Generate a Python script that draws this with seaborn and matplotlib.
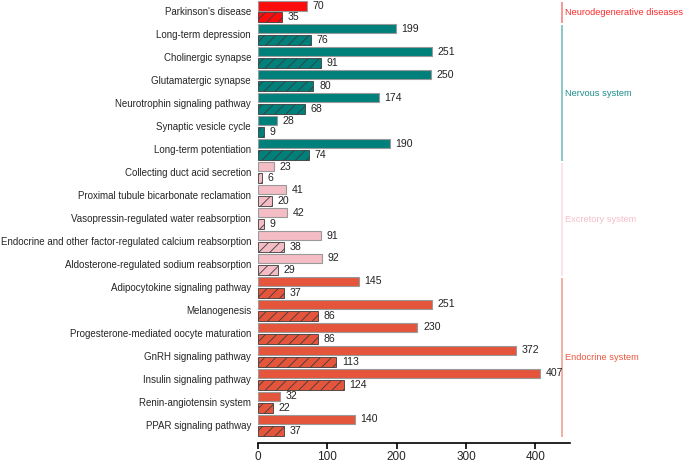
import numpy as np
import pandas as pd
import matplotlib.pyplot as plt
import seaborn as sns

# pathway names, top to bottom
pathways = [
    "Parkinson's disease",
    "Long-term depression",
    "Cholinergic synapse",
    "Glutamatergic synapse",
    "Neurotrophin signaling pathway",
    "Synaptic vesicle cycle",
    "Long-term potentiation",
    "Collecting duct acid secretion",
    "Proximal tubule bicarbonate reclamation",
    "Vasopressin-regulated water reabsorption",
    "Endocrine and other factor-regulated calcium reabsorption",
    "Aldosterone-regulated sodium reabsorption",
    "Adipocytokine signaling pathway",
    "Melanogenesis",
    "Progesterone-mediated oocyte maturation",
    "GnRH signaling pathway",
    "Insulin signaling pathway",
    "Renin-angiotensin system",
    "PPAR signaling pathway",
]
groups = (["Neurodegenerative diseases"] + ["Nervous system"] * 6
          + ["Excretory system"] * 5 + ["Endocrine system"] * 7)
solid_values = [70, 199, 251, 250, 174, 28, 190, 23, 41, 42, 91, 92,
                145, 251, 230, 372, 407, 32, 140]
hatched_values = [35, 76, 91, 80, 68, 9, 74, 6, 20, 9, 38, 29,
                  37, 86, 86, 113, 124, 22, 37]

group_names = ["Neurodegenerative diseases", "Nervous system",
               "Excretory system", "Endocrine system"]
bar_colors = {"Neurodegenerative diseases": "#fb0d0d",
              "Nervous system": "#00807b",
              "Excretory system": "#f4bcc5",
              "Endocrine system": "#e5553b"}
line_colors = {"Neurodegenerative diseases": "#f77a7a",
               "Nervous system": "#6fb8b6",
               "Excretory system": "#fbdde3",
               "Endocrine system": "#f3988a"}
text_colors = {"Neurodegenerative diseases": "#fb2a2a",
               "Nervous system": "#1a8e8a",
               "Excretory system": "#f6bfca",
               "Endocrine system": "#e8583f"}

n = len(pathways)
df = pd.DataFrame({
    "pathway": pathways * 2,
    "value": solid_values + hatched_values,
    "kind": ["all"] * n + ["sub"] * n,
})

sns.set_style("white")
plt.rcParams["font.family"] = ["Liberation Sans", "DejaVu Sans"]
plt.rcParams["hatch.linewidth"] = 0.6

fig = plt.figure(figsize=(6.85, 4.65), dpi=100)
ax = fig.add_axes([258 / 685, 22 / 465, 312 / 685, 443 / 465])

sns.barplot(data=df, y="pathway", x="value", hue="kind", order=pathways,
            orient="h", width=1.0, gap=0.17, errorbar=None, legend=False, ax=ax)

for bar, grp in zip(ax.containers[0], groups):
    bar.set_facecolor(bar_colors[grp])
    bar.set_edgecolor("#9a9a9a")
    bar.set_linewidth(0.8)
for bar, grp in zip(ax.containers[1], groups):
    bar.set_facecolor(bar_colors[grp])
    bar.set_edgecolor("#3c3c3c")
    bar.set_linewidth(0.6)
    bar.set_hatch("///")

for c in ax.containers:
    ax.bar_label(c, padding=4, fontsize=7.6, color="#222222")

# group brackets on the right
for name in group_names:
    idx = [i for i, g in enumerate(groups) if g == name]
    y0, y1 = idx[0] - 0.4, idx[-1] + 0.5
    ax.plot([438.5, 438.5], [y0, y1], color=line_colors[name], lw=1.1,
            clip_on=False, solid_capstyle="butt")
    ax.text(443.5, (y0 + y1) / 2, name, color=text_colors[name], fontsize=6.7,
            ha="left", va="center", clip_on=False)

ax.set_xlim(0, 450)
ax.set_ylim(18.78, -0.5)
ax.set_xticks([0, 100, 200, 300, 400])
ax.set_xlabel("")
ax.set_ylabel("")

sns.despine(ax=ax, left=True)
ax.spines["bottom"].set_color("black")
ax.spines["bottom"].set_linewidth(1.2)
ax.tick_params(axis="x", length=4, width=1.2, color="black", labelsize=8.5,
               pad=2, bottom=True)
ax.tick_params(axis="y", length=0, labelsize=7.0, pad=5)

fig.savefig("out.png", dpi=100)
